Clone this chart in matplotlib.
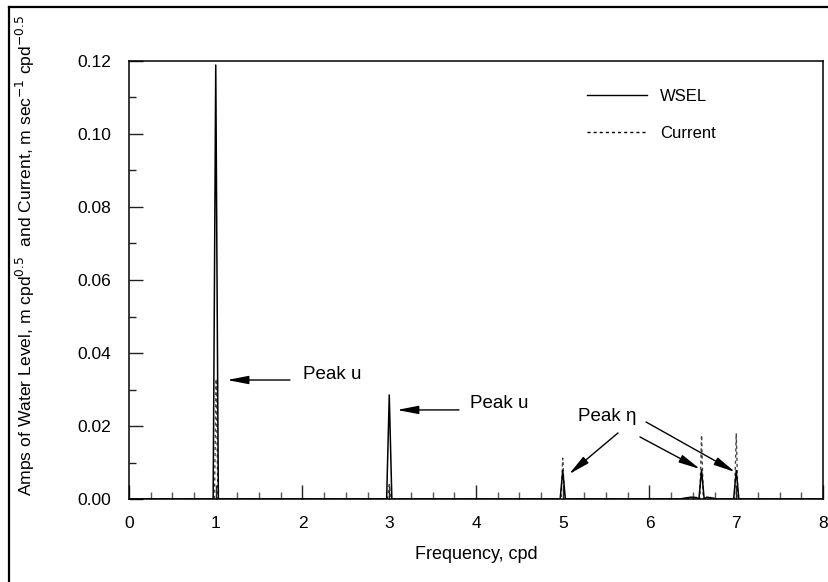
import matplotlib
matplotlib.use("Agg")
import matplotlib.pyplot as plt
from matplotlib.lines import Line2D
from matplotlib.ticker import MultipleLocator, FormatStrFormatter

# ---- data ----
wsel_freq = [0.00, 0.97, 1.00, 1.03, 2.97, 3.00, 3.03, 4.97, 5.00, 5.03,
             6.35, 6.42, 6.48, 6.54, 6.57, 6.60, 6.63, 6.66, 6.72, 6.78,
             6.97, 7.00, 7.03, 8.00]
wsel_amp = [0.0, 0.0, 0.1189, 0.0, 0.0, 0.0285, 0.0, 0.0, 0.0078, 0.0,
            0.0, 0.0003, 0.0005, 0.0004, 0.0, 0.0080, 0.0, 0.0005, 0.0003, 0.0,
            0.0, 0.0078, 0.0, 0.0]

current_freq = [0.00, 0.985, 1.005, 1.025, 2.98, 3.00, 3.02, 4.98, 5.00, 5.02,
                6.58, 6.60, 6.62, 6.98, 7.00, 7.02, 8.00]
current_amp = [0.0, 0.0, 0.0329, 0.0, 0.0, 0.0040, 0.0, 0.0, 0.0112, 0.0,
               0.0, 0.0175, 0.0, 0.0, 0.0180, 0.0, 0.0]

x_ticks = [0, 1, 2, 3, 4, 5, 6, 7, 8]
y_ticks = [0.00, 0.02, 0.04, 0.06, 0.08, 0.10, 0.12]

# annotation anchors (data units): (tail x, tail y, tip x, tip y)
arrows_u = [(1.856, 0.0326, 1.130, 0.0326),
            (3.804, 0.0244, 3.089, 0.0244)]
labels_u = [(2.006, 0.0340), (3.931, 0.0263)]
arrows_eta = [(5.637, 0.0181, 5.072, 0.0068),
              (5.890, 0.0170, 6.582, 0.0082),
              (5.960, 0.0211, 6.986, 0.0074)]
label_eta = (5.176, 0.0225)

# ---- styling ----
plt.rcParams['font.family'] = ['Liberation Sans', 'DejaVu Sans']
plt.rcParams['mathtext.fontset'] = 'dejavusans'

W, H = 829, 582
fig = plt.figure(figsize=(W / 100, H / 100), dpi=100)
ax = fig.add_axes([129 / W, 1 - 499 / H, (823 - 129) / W, (499 - 61) / H])

ax.plot(current_freq, current_amp, color='#444444', lw=1.0,
        linestyle=(0, (2.2, 2.2)), label='Current', zorder=2)
ax.plot(wsel_freq, wsel_amp, color='black', lw=1.1, label='WSEL', zorder=3)

ax.set_xlim(0, 8)
ax.set_ylim(0, 0.12)
ax.set_xticks(x_ticks)
ax.set_yticks(y_ticks)
ax.xaxis.set_minor_locator(MultipleLocator(0.25))
ax.yaxis.set_minor_locator(MultipleLocator(0.01))
ax.yaxis.set_major_formatter(FormatStrFormatter('%.2f'))
ax.tick_params(which='both', direction='in', top=False, right=False,
               labelsize=12.5, width=1.0, color='#222222')
ax.tick_params(axis='x', which='major', length=10, pad=12)
ax.tick_params(axis='x', which='minor', length=5, color='#555555')
ax.tick_params(axis='y', which='major', length=10, pad=13)
ax.tick_params(axis='y', which='minor', length=5)
for s in ax.spines.values():
    s.set_linewidth(1.1)

ax.set_xlabel('Frequency, cpd', fontsize=13, labelpad=11)
ax.set_ylabel('Amps of Water Level, m cpd$^{0.5}$  and Current, m sec$^{-1}$ cpd$^{-0.5}$',
              fontsize=12.6)
ax.yaxis.set_label_coords(-0.132, 0.557)

# legend
h_w = Line2D([], [], color='black', lw=1.0)
h_c = Line2D([], [], color='black', lw=1.0, linestyle=(0, (2.2, 2.2)))
ax.legend([h_w, h_c], ['WSEL', 'Current'], frameon=False, fontsize=12,
          loc='upper left', bbox_to_anchor=(587 / W, 1 - 89 / H),
          bbox_transform=fig.transFigure, borderpad=0, borderaxespad=0,
          handlelength=3.6, handletextpad=0.8, labelspacing=1.3)

aprops = dict(arrowstyle='-|>,head_length=1.3,head_width=0.25',
              mutation_scale=10, lw=1.0, color='black', shrinkA=0, shrinkB=0)
for (tx, ty, hx, hy) in arrows_u + arrows_eta:
    ax.annotate('', xy=(hx, hy), xytext=(tx, ty), arrowprops=aprops)
for (lx, ly) in labels_u:
    ax.text(lx, ly, 'Peak u', fontsize=13.5, ha='left', va='center')
ax.text(label_eta[0], label_eta[1], 'Peak \u03b7', fontsize=13.5, ha='left', va='center')

# outer figure frame (top and left visible)
fig.add_artist(Line2D([9 / W, 9 / W], [0, 1 - 7 / H], transform=fig.transFigure,
                      color='black', lw=1.6))
fig.add_artist(Line2D([9 / W, 1], [1 - 7 / H, 1 - 7 / H], transform=fig.transFigure,
                      color='black', lw=1.6))

fig.savefig('out.png', dpi=100)
